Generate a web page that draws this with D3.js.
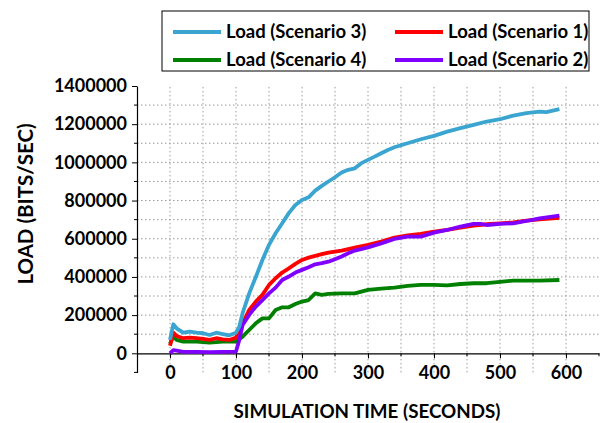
<!DOCTYPE html>
<html>
<head>
<meta charset="utf-8">
<script src="https://cdn.jsdelivr.net/npm/d3@7"></script>
<style>
  body { margin: 0; background: #fff; }
  text { font-family: Lato, "Open Sans", sans-serif; font-weight: bold; fill: #000; }
</style>
</head>
<body>
<svg id="chart" width="602" height="423"></svg>
<script>
// values (time in seconds, load in bits/sec)
const times3 = [0, 5, 10, 20, 30, 40, 50, 60, 70, 80, 90, 100, 105, 110, 120, 130, 140, 150, 160, 170, 180, 190, 200, 210, 220, 230, 240, 250, 260, 270, 280, 290, 300, 310, 320, 330, 340, 350, 360, 380, 400, 420, 440, 460, 480, 500, 520, 540, 560, 570, 590];
const load3 = [70000, 152000, 131000, 108000, 113000, 108000, 105000, 96000, 108000, 101000, 94000, 108000, 140000, 210000, 314000, 400000, 489000, 568000, 629000, 681000, 734000, 777000, 803000, 817000, 852000, 877000, 900000, 922000, 947000, 961000, 969000, 996000, 1013000, 1030000, 1048000, 1065000, 1079000, 1090000, 1100000, 1121000, 1139000, 1161000, 1179000, 1196000, 1214000, 1226000, 1245000, 1258000, 1266000, 1263000, 1279000];

const times1 = [0, 5, 10, 20, 30, 40, 50, 60, 70, 80, 90, 100, 110, 120, 130, 140, 150, 160, 170, 180, 190, 200, 210, 220, 230, 240, 250, 260, 280, 300, 320, 340, 360, 380, 400, 420, 440, 460, 480, 500, 520, 540, 560, 590];
const load1 = [40000, 108000, 91000, 79000, 82000, 79000, 75000, 70000, 79000, 73000, 70000, 82000, 157000, 227000, 271000, 306000, 358000, 393000, 423000, 445000, 468000, 489000, 501000, 510000, 519000, 527000, 533000, 538000, 554000, 568000, 585000, 606000, 617000, 625000, 637000, 646000, 658000, 669000, 676000, 681000, 686000, 695000, 702000, 709000];

const times2 = [0, 5, 10, 20, 40, 60, 80, 100, 105, 110, 120, 130, 140, 150, 160, 170, 180, 190, 200, 210, 220, 230, 240, 250, 260, 270, 280, 300, 320, 340, 360, 380, 400, 420, 440, 460, 470, 480, 500, 520, 540, 560, 590];
const load2 = [0, 17000, 14000, 7000, 7000, 6000, 7000, 9000, 70000, 148000, 201000, 245000, 279000, 314000, 344000, 384000, 402000, 423000, 437000, 451000, 466000, 472000, 480000, 493000, 507000, 524000, 538000, 555000, 576000, 599000, 611000, 611000, 632000, 646000, 664000, 678000, 678000, 672000, 678000, 681000, 693000, 707000, 721000];

const times4 = [0, 5, 10, 20, 40, 60, 80, 100, 110, 120, 130, 140, 150, 160, 170, 180, 190, 200, 210, 220, 230, 240, 260, 280, 300, 320, 340, 360, 380, 400, 420, 440, 460, 480, 500, 520, 540, 560, 590];
const load4 = [50000, 87000, 70000, 61000, 61000, 56000, 61000, 61000, 87000, 122000, 157000, 183000, 183000, 227000, 241000, 241000, 258000, 271000, 279000, 314000, 306000, 311000, 314000, 314000, 332000, 339000, 344000, 353000, 358000, 358000, 356000, 363000, 367000, 367000, 374000, 381000, 381000, 381000, 384000];

const xTicks = [0, 100, 200, 300, 400, 500, 600];
const yTicks = [0, 200000, 400000, 600000, 800000, 1000000, 1200000, 1400000];

const series = [
  { name: "Load (Scenario 3)", color: "#3aa5d0", t: times3, v: load3 },
  { name: "Load (Scenario 1)", color: "#ff0000", t: times1, v: load1 },
  { name: "Load (Scenario 4)", color: "#008000", t: times4, v: load4 },
  { name: "Load (Scenario 2)", color: "#8000ff", t: times2, v: load2 }
];

const svg = d3.select("#chart");

const x = d3.scaleLinear().domain([-50, 650]).range([137, 599]);
const y = d3.scaleLinear().domain([-100000, 1400000]).range([372.4, 86]);

// dotted grid
const grid = svg.append("g")
  .attr("stroke", "#9a9a9a")
  .attr("stroke-width", 1)
  .attr("stroke-dasharray", "1.5,2.5");
grid.selectAll(".vg")
  .data(d3.range(0, 601, 50))
  .enter().append("line")
  .attr("x1", d => x(d)).attr("x2", d => x(d))
  .attr("y1", y(-100000)).attr("y2", y(1400000));
grid.selectAll(".hg")
  .data(d3.range(100000, 1400000, 100000))
  .enter().append("line")
  .attr("x1", x(-50)).attr("x2", x(650))
  .attr("y1", d => y(d)).attr("y2", d => y(d));

// axes
const yAxis = svg.append("g").attr("transform", `translate(${x(-50)},0)`);
yAxis.call(d3.axisLeft(y).tickValues(yTicks).tickSize(5).tickSizeOuter(0).tickPadding(5).tickFormat(d3.format("d")));
yAxis.append("g").selectAll("line")
  .data(d3.range(-100000, 1400000, 200000))
  .enter().append("line")
  .attr("x1", -3).attr("x2", 0)
  .attr("y1", d => y(d)).attr("y2", d => y(d))
  .attr("stroke", "#000");
yAxis.select(".domain").attr("stroke-width", 1.2);
yAxis.selectAll("text").style("font-size", "18px");

const xAxis = svg.append("g").attr("transform", `translate(0,${y(0)})`);
xAxis.call(d3.axisBottom(x).tickValues(xTicks).tickSize(5).tickSizeOuter(0).tickPadding(8));
xAxis.select(".domain").attr("stroke-width", 1.2);
xAxis.append("g").selectAll("line")
  .data(d3.range(50, 651, 100))
  .enter().append("line")
  .attr("x1", d => x(d)).attr("x2", d => x(d))
  .attr("y1", 0).attr("y2", 3)
  .attr("stroke", "#000");
xAxis.selectAll("text").style("font-size", "18px");
svg.selectAll(".tick text").attr("font-family", null);

// lines
const line = d3.line()
  .x(d => x(d[0]))
  .y(d => y(d[1]));
svg.append("g").selectAll("path")
  .data([series[2], series[1], series[3], series[0]])
  .enter().append("path")
  .attr("d", s => line(d3.zip(s.t, s.v)))
  .attr("fill", "none")
  .attr("stroke", s => s.color)
  .attr("stroke-width", 3.8)
  .attr("stroke-linejoin", "round");

// axis titles
svg.append("text")
  .attr("x", 367).attr("y", 418)
  .attr("text-anchor", "middle")
  .style("font-size", "18.8px")
  .text("SIMULATION TIME (SECONDS)");
svg.append("text")
  .attr("transform", "translate(33,204) rotate(-90)")
  .attr("text-anchor", "middle")
  .style("font-size", "20.5px")
  .text("LOAD (BITS/SEC)");

// legend
const legend = svg.append("g");
legend.append("rect")
  .attr("x", 162).attr("y", 11)
  .attr("width", 427).attr("height", 60)
  .attr("fill", "#fff").attr("stroke", "#000").attr("stroke-width", 1);
const items = legend.selectAll(".item")
  .data(series)
  .enter().append("g")
  .attr("transform", (d, i) => `translate(${i % 2 ? 395 : 173},${i < 2 ? 32 : 60})`);
items.append("line")
  .attr("x1", 0).attr("x2", 48)
  .attr("stroke", d => d.color)
  .attr("stroke-width", 3.8);
items.append("text")
  .attr("x", 53).attr("dy", "0.35em")
  .style("font-size", "18.5px")
  .text(d => d.name);
</script>
</body>
</html>
